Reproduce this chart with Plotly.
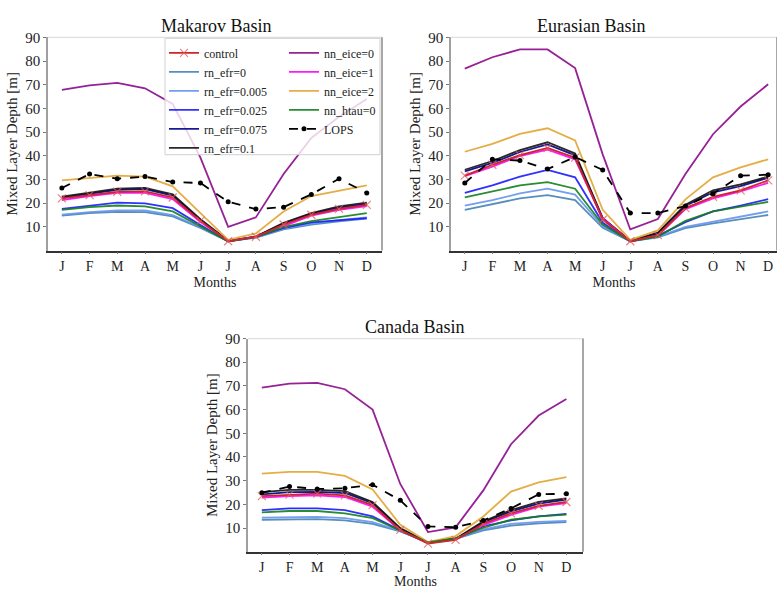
import plotly.graph_objects as go

months = ["J", "F", "M", "A", "M", "J", "J", "A", "S", "O", "N", "D"]
month_idx = list(range(12))
y_ticks = [10, 20, 30, 40, 50, 60, 70, 80, 90]

series_names = ["control", "rn_efr=0", "rn_efr=0.005", "rn_efr=0.025", "rn_efr=0.075",
                "rn_efr=0.1", "nn_eice=0", "nn_eice=1", "nn_eice=2", "nn_htau=0", "LOPS"]

# ---- Makarov Basin ----
mak_control = [22.0, 23.4, 24.8, 25.0, 22.4, 12.5, 3.9, 5.8, 11.0, 15.1, 17.6, 19.3]
mak_rn0 = [14.7, 15.8, 16.3, 16.2, 14.4, 9.5, 3.9, 5.5, 8.9, 10.9, 12.3, 13.5]
mak_rn0005 = [15.1, 16.2, 16.9, 16.9, 15.0, 9.8, 3.9, 5.6, 9.3, 11.4, 12.8, 14.0]
mak_rn0025 = [17.6, 18.8, 20.2, 19.9, 17.9, 10.8, 3.9, 5.8, 9.6, 11.9, 12.9, 13.7]
mak_rn0075 = [22.3, 23.8, 25.6, 25.9, 23.2, 12.8, 4.0, 5.9, 11.4, 15.5, 18.1, 19.7]
mak_rn01 = [22.7, 24.3, 26.1, 26.4, 23.7, 13.2, 4.1, 5.9, 11.7, 15.8, 18.6, 20.2]
mak_eice0 = [67.8, 69.7, 70.8, 68.5, 61.9, 39.2, 10.0, 14.0, 32.3, 47.5, 56.5, 64.0]
mak_eice1 = [21.3, 23.0, 24.3, 24.3, 21.7, 12.0, 4.1, 5.9, 10.3, 14.7, 17.2, 18.8]
mak_eice2 = [29.6, 30.7, 31.6, 31.2, 27.1, 15.8, 4.5, 7.2, 16.5, 23.0, 25.4, 27.5]
mak_htau0 = [17.2, 18.3, 19.0, 18.6, 16.5, 10.3, 3.9, 5.7, 9.9, 12.4, 14.2, 15.8]
mak_lops = [26.4, 32.3, 30.3, 31.2, 28.9, 28.5, 20.6, 17.5, 18.3, 23.7, 30.3, 24.3]

# ---- Eurasian Basin ----
eur_control = [31.6, 36.2, 40.3, 43.3, 39.2, 13.0, 3.9, 6.5, 17.9, 22.7, 25.4, 29.6]
eur_rn0 = [17.2, 19.5, 22.0, 23.4, 21.3, 9.6, 3.9, 5.6, 9.5, 11.5, 13.2, 15.0]
eur_rn0005 = [19.0, 21.3, 24.1, 26.1, 23.6, 10.3, 3.9, 5.8, 10.0, 12.2, 14.2, 16.5]
eur_rn0025 = [24.3, 27.5, 31.2, 34.0, 30.9, 11.7, 3.9, 6.2, 12.0, 16.5, 19.0, 21.7]
eur_rn0075 = [33.4, 37.0, 41.6, 44.8, 40.2, 13.4, 4.0, 7.2, 18.8, 24.6, 27.2, 30.7]
eur_rn01 = [34.1, 37.8, 42.4, 45.7, 41.0, 13.8, 4.1, 7.6, 19.3, 25.4, 27.9, 31.2]
eur_eice0 = [76.8, 81.6, 84.9, 84.9, 77.0, 40.6, 8.9, 13.3, 32.3, 49.1, 60.8, 70.2]
eur_eice1 = [31.4, 35.4, 39.9, 42.6, 38.5, 13.5, 3.9, 6.3, 17.5, 22.0, 25.0, 28.6]
eur_eice2 = [41.7, 45.0, 49.2, 51.6, 46.5, 17.2, 4.5, 8.5, 21.6, 30.9, 35.1, 38.5]
eur_htau0 = [22.4, 24.8, 27.5, 28.9, 26.1, 11.0, 3.9, 5.9, 12.5, 16.5, 18.5, 20.5]
eur_lops = [28.5, 38.5, 38.0, 34.4, 39.5, 34.0, 15.8, 15.8, 18.8, 24.0, 31.6, 32.0]

# ---- Canada Basin ----
can_control = [23.5, 24.1, 24.5, 23.8, 19.7, 9.2, 3.4, 5.0, 11.8, 16.2, 19.4, 21.0]
can_rn0 = [13.5, 13.8, 13.8, 13.2, 11.8, 8.6, 3.9, 5.4, 9.0, 11.0, 12.0, 12.5]
can_rn0005 = [14.4, 14.7, 14.7, 14.2, 12.5, 8.8, 3.9, 5.5, 9.4, 11.8, 12.6, 13.0]
can_rn0025 = [17.6, 18.3, 18.3, 17.6, 14.9, 9.0, 3.9, 5.6, 10.7, 13.2, 14.9, 16.0]
can_rn0075 = [24.2, 25.2, 25.3, 24.8, 20.5, 9.6, 3.8, 5.3, 12.4, 17.0, 20.3, 22.0]
can_rn01 = [25.2, 26.1, 26.1, 25.6, 21.0, 10.0, 3.9, 5.5, 12.8, 17.6, 21.0, 22.5]
can_eice0 = [69.3, 71.0, 71.3, 68.6, 60.0, 28.6, 8.3, 10.3, 25.9, 45.4, 57.5, 64.5]
can_eice1 = [22.8, 23.5, 23.8, 23.1, 19.0, 9.0, 3.7, 5.2, 11.2, 15.5, 19.0, 20.5]
can_eice2 = [33.0, 33.7, 33.7, 32.0, 26.3, 11.4, 4.1, 6.6, 14.9, 25.4, 29.3, 31.5]
can_htau0 = [16.6, 17.2, 17.2, 16.2, 14.2, 8.9, 3.9, 5.6, 10.2, 13.5, 14.9, 15.7]
can_lops = [24.9, 27.5, 26.5, 26.8, 28.3, 21.7, 10.7, 10.3, 13.2, 18.3, 24.2, 24.5]

basins = {
    "Makarov Basin": [mak_control, mak_rn0, mak_rn0005, mak_rn0025, mak_rn0075, mak_rn01,
                      mak_eice0, mak_eice1, mak_eice2, mak_htau0, mak_lops],
    "Eurasian Basin": [eur_control, eur_rn0, eur_rn0005, eur_rn0025, eur_rn0075, eur_rn01,
                       eur_eice0, eur_eice1, eur_eice2, eur_htau0, eur_lops],
    "Canada Basin": [can_control, can_rn0, can_rn0005, can_rn0025, can_rn0075, can_rn01,
                     can_eice0, can_eice1, can_eice2, can_htau0, can_lops],
}

colors = {
    "control": "rgb(200,40,40)",
    "rn_efr=0": "#4682b4",
    "rn_efr=0.005": "#6495ed",
    "rn_efr=0.025": "#1a1aff",
    "rn_efr=0.075": "#00008b",
    "rn_efr=0.1": "#111111",
    "nn_eice=0": "#8b0a8b",
    "nn_eice=1": "#ff00ff",
    "nn_eice=2": "#e3a532",
    "nn_htau=0": "#11801a",
    "LOPS": "#000000",
}

FONT = "Liberation Serif"
W, H = 777, 589

def px(x):
    return x / W

def py(y):
    return 1 - y / H

# subplot pixel boxes: (left, right, top, bottom)
boxes = {
    "Makarov Basin": (48, 382, 30, 248),
    "Eurasian Basin": (451, 777, 30, 248),
    "Canada Basin": (248, 583, 338, 556),
}
xranges = {
    "Makarov Basin": [-0.5, 11.55],
    "Eurasian Basin": [-0.5, 11.32],
    "Canada Basin": [-0.5, 11.6],
}
title_x = {"Makarov Basin": 216, "Eurasian Basin": 591, "Canada Basin": 414}

draw_order = [1, 2, 3, 4, 5, 6, 7, 8, 9, 0, 10]

fig = go.Figure()
layout_axes = {}
shapes = []
annotations = []

for k, (bname, data) in enumerate(basins.items()):
    ax = "" if k == 0 else str(k + 1)
    xa, ya = "x" + ax, "y" + ax
    l, r, t, b = boxes[bname]
    for i in draw_order:
        name = series_names[i]
        y = data[i]
        legend = "legend" if i <= 5 else "legend2"
        kw = dict(x=month_idx, y=y, name=name, xaxis=xa, yaxis=ya,
                  showlegend=(k == 0), legend=legend, legendrank=i,
                  hoverinfo="skip")
        if name == "control":
            fig.add_trace(go.Scatter(mode="lines+markers",
                                     line=dict(color=colors[name], width=1.8),
                                     marker=dict(symbol="x-thin", size=8,
                                                 line=dict(color="rgba(230,90,90,0.75)", width=1.2)),
                                     **kw))
        elif name == "LOPS":
            fig.add_trace(go.Scatter(mode="lines+markers",
                                     line=dict(color=colors[name], width=1.8, dash="dash"),
                                     marker=dict(symbol="circle", size=5, color="black"),
                                     **kw))
        else:
            fig.add_trace(go.Scatter(mode="lines",
                                     line=dict(color=colors[name], width=1.8),
                                     opacity=0.9, **kw))

    layout_axes["xaxis" + ax] = dict(
        domain=[px(l), min(1.0, px(r))], anchor=ya, range=xranges[bname],
        tickmode="array", tickvals=month_idx, ticktext=months,
        showgrid=False, zeroline=False, showline=True, linecolor="#333333", linewidth=1.5,
        ticks="outside", ticklen=2, tickcolor="#777777",
        tickfont=dict(family=FONT, size=14, color="#222222"),
        title=dict(text="Months", font=dict(family=FONT, size=14, color="#222222"), standoff=4),
    )
    layout_axes["yaxis" + ax] = dict(
        domain=[py(b), py(t)], anchor=xa, range=[0, 90],
        tickmode="array", tickvals=y_ticks,
        showgrid=False, zeroline=False, showline=True, linecolor="#a0a0a0", linewidth=1.5,
        ticks="outside", ticklen=3, tickcolor="#777777",
        tickfont=dict(family=FONT, size=15, color="#222222"),
        title=dict(text="Mixed Layer Depth [m]", font=dict(family=FONT, size=15, color="#222222"), standoff=4),
    )
    # top and right frame lines
    shapes.append(dict(type="line", xref=xa + " domain", yref=ya + " domain",
                       x0=0, x1=1, y0=1, y1=1, line=dict(color="#e0e0e0", width=1.2)))
    shapes.append(dict(type="line", xref=xa + " domain", yref=ya + " domain",
                       x0=1, x1=1, y0=0, y1=1, line=dict(color="#8a8a8a", width=1.5)))
    annotations.append(dict(text=bname, x=px(title_x[bname]), y=py(t - 12),
                            xref="paper", yref="paper", xanchor="center", yanchor="middle",
                            showarrow=False, font=dict(family=FONT, size=18, color="#111111")))

# legend frame (semi-transparent white box over the lines)
shapes.append(dict(type="rect", xref="paper", yref="paper",
                   x0=px(165), x1=px(380), y0=py(150), y1=py(31),
                   fillcolor="rgba(255,255,255,0.8)", line=dict(color="#d0d0d0", width=1),
                   layer="above"))

fig.update_layout(
    width=W, height=H, margin=dict(l=0, r=0, t=0, b=0),
    paper_bgcolor="white", plot_bgcolor="white",
    shapes=shapes, annotations=annotations,
    legend=dict(x=px(164), y=py(31), xanchor="left", yanchor="top",
                bgcolor="rgba(0,0,0,0)", borderwidth=0, traceorder="normal",
                font=dict(family=FONT, size=12, color="#222222"), itemwidth=30),
    legend2=dict(x=px(284), y=py(31), xanchor="left", yanchor="top",
                 bgcolor="rgba(0,0,0,0)", borderwidth=0, traceorder="normal",
                 font=dict(family=FONT, size=12, color="#222222"), itemwidth=30),
    **layout_axes,
)

fig.write_html("out.html", config={"displayModeBar": False},
               post_script="document.body.style.margin='0';document.body.style.padding='0';")
